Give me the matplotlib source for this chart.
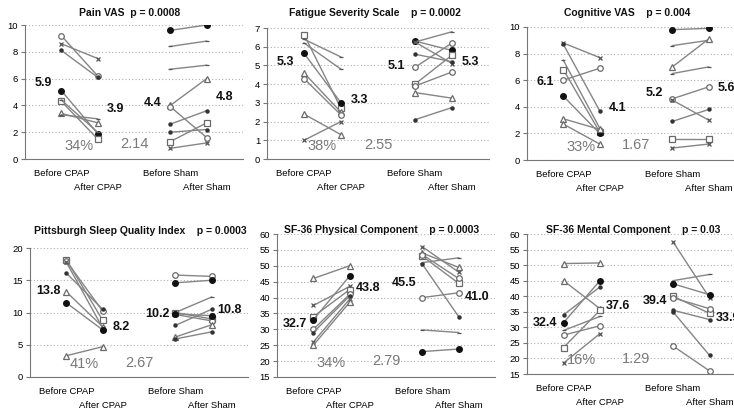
import matplotlib
matplotlib.use("Agg")
import matplotlib.pyplot as plt

W, H = 734, 415

before_labels = ["Before CPAP", "Before Sham"]
after_labels = ["After CPAP", "After Sham"]

# Pain VAS
pain_cpap_before = [9.2, 8.6, 8.1, 5.1, 4.3, 4.4, 3.4, 3.3]
pain_cpap_after = [6.2, 7.5, 6.1, 1.9, 1.5, 2.0, 2.7, 3.0]
pain_sham_before = [9.6, 8.4, 6.7, 4.0, 3.9, 2.6, 2.0, 1.3, 0.8]
pain_sham_after = [10.0, 8.8, 7.0, 6.0, 1.6, 3.6, 2.2, 2.7, 1.2]
pain_means = [5.9, 3.9, 4.4, 4.8]

# Fatigue Severity Scale
fss_cpap_before = [6.65, 6.4, 6.2, 5.65, 4.6, 4.3, 2.4, 1.0]
fss_cpap_after = [2.7, 5.45, 4.8, 3.0, 2.5, 2.35, 1.3, 2.0]
fss_sham_before = [6.3, 6.25, 6.25, 5.6, 4.9, 4.0, 3.9, 3.55, 2.1]
fss_sham_after = [5.8, 6.8, 5.1, 5.2, 6.2, 5.55, 4.65, 3.25, 2.75]
fss_means = [5.3, 3.3, 5.1, 5.3]

# Cognitive VAS
cog_cpap_before = [8.8, 8.7, 7.5, 6.8, 6.0, 4.8, 3.1, 2.7]
cog_cpap_after = [7.7, 3.7, 2.4, 2.1, 6.9, 2.0, 2.3, 1.2]
cog_sham_before = [9.8, 8.6, 7.0, 6.5, 4.6, 4.5, 2.9, 1.6, 0.9]
cog_sham_after = [9.9, 9.0, 9.1, 7.0, 5.5, 3.0, 3.8, 1.6, 1.2]
cog_means = [6.1, 4.1, 5.2, 5.6]

# Pittsburgh Sleep Quality Index
psqi_cpap_before = [18.2, 18.0, 17.8, 16.1, 13.2, 11.5, 3.3]
psqi_cpap_after = [8.8, 10.2, 7.6, 10.5, 7.8, 7.3, 4.7]
psqi_sham_before = [15.8, 14.6, 10.0, 10.0, 9.7, 9.8, 8.0, 6.2, 5.9]
psqi_sham_after = [15.6, 15.0, 12.4, 9.0, 8.7, 9.5, 10.5, 8.1, 7.0]
psqi_means = [13.8, 8.2, 10.2, 10.8]

# SF-36 Physical Component
pcs_cpap_before = [46.0, 37.5, 34.0, 33.0, 30.0, 29.0, 26.0, 25.0]
pcs_cpap_after = [50.0, 43.5, 42.5, 46.8, 41.0, 40.5, 39.5, 38.5]
pcs_sham_before = [56.0, 54.0, 53.0, 51.0, 53.5, 50.5, 40.0, 29.8, 23.0]
pcs_sham_after = [48.0, 49.5, 44.5, 52.5, 46.0, 34.0, 41.5, 29.0, 23.8]
pcs_means = [32.7, 43.8, 45.5, 41.0]

# SF-36 Mental Component
mcs_cpap_before = [50.5, 45.0, 34.0, 31.5, 29.0, 27.5, 23.5, 18.5]
mcs_cpap_after = [50.7, 36.0, 43.0, 45.0, 33.5, 30.5, 35.5, 28.0]
mcs_sham_before = [57.5, 45.0, 44.0, 40.0, 39.5, 35.5, 35.0, 24.0]
mcs_sham_after = [39.5, 47.0, 40.5, 34.5, 36.0, 32.5, 21.0, 16.0]
mcs_means = [32.4, 37.6, 39.4, 33.9]

# marker kinds per subject: o open circle, O filled circle, s square, ^ triangle, x, . dot, _ none
pain_cpap_marks = ['o', 'x', '.', 'O', 's', '_', '^', '_']
pain_sham_marks = ['O', '_', '_', '^', 'o', '.', '.', 's', 'x']
fss_cpap_marks = ['s', '_', '_', 'O', '^', 'o', '^', 'x']
fss_sham_marks = ['O', '_', 'x', '.', 'o', 's', 'o', '^', '.']
cog_cpap_marks = ['x', '.', '_', 's', 'o', 'O', '^', '^']
cog_sham_marks = ['O', '_', '^', '_', 'o', 'x', '.', 's', 'x']
psqi_cpap_marks = ['s', 'o', 'x', '.', '^', 'O', '^']
psqi_sham_marks = ['o', 'O', '_', 's', 'o', 'O', '.', '^', '.']
pcs_cpap_marks = ['^', 'x', 's', 'O', 'o', '.', 'x', '^']
pcs_sham_marks = ['x', '^', 's', '_', 'o', '.', 'o', '_', 'O']
mcs_cpap_marks = ['^', '^', '.', 'O', '_', 'o', 's', 'x']
mcs_sham_marks = ['x', '_', 'O', 's', 'o', '.', '.', 'o']

panels = [
    dict(title="Pain VAS  p = 0.0008", ylim=(0, 10), step=2,
         cb=pain_cpap_before, ca=pain_cpap_after, cm=pain_cpap_marks,
         sb=pain_sham_before, sa=pain_sham_after, sm=pain_sham_marks,
         means=pain_means, pct="34%", ratio="2.14",
         box=(25, 25, 243, 159), tpos=(130, 13)),
    dict(title="Fatigue Severity Scale    p = 0.0002", ylim=(0, 7), step=1,
         cb=fss_cpap_before, ca=fss_cpap_after, cm=fss_cpap_marks,
         sb=fss_sham_before, sa=fss_sham_after, sm=fss_sham_marks,
         means=fss_means, pct="38%", ratio="2.55",
         box=(267, 28, 489, 159), tpos=(375, 13)),
    dict(title="Cognitive VAS    p = 0.004", ylim=(0, 10), step=2,
         cb=cog_cpap_before, ca=cog_cpap_after, cm=cog_cpap_marks,
         sb=cog_sham_before, sa=cog_sham_after, sm=cog_sham_marks,
         means=cog_means, pct="33%", ratio="1.67",
         box=(527, 27, 745, 160), tpos=(627, 13)),
    dict(title="Pittsburgh Sleep Quality Index    p = 0.0003", ylim=(0, 20), step=5,
         cb=psqi_cpap_before, ca=psqi_cpap_after, cm=psqi_cpap_marks,
         sb=psqi_sham_before, sa=psqi_sham_after, sm=psqi_sham_marks,
         means=psqi_means, pct="41%", ratio="2.67",
         box=(30, 248, 248, 377), tpos=(140, 231)),
    dict(title="SF-36 Physical Component    p = 0.0003", ylim=(15, 60), step=5,
         cb=pcs_cpap_before, ca=pcs_cpap_after, cm=pcs_cpap_marks,
         sb=pcs_sham_before, sa=pcs_sham_after, sm=pcs_sham_marks,
         means=pcs_means, pct="34%", ratio="2.79",
         box=(277, 234, 495, 377), tpos=(382, 230)),
    dict(title="SF-36 Mental Component    p = 0.03", ylim=(15, 60), step=5,
         cb=mcs_cpap_before, ca=mcs_cpap_after, cm=mcs_cpap_marks,
         sb=mcs_sham_before, sa=mcs_sham_after, sm=mcs_sham_marks,
         means=mcs_means, pct="16%", ratio="1.29",
         box=(527, 234, 746, 374), tpos=(633, 230)),
]

LINE = '#858585'
EDGE = '#6a6a6a'
plt.rcParams['font.family'] = ['Liberation Sans Narrow', 'Liberation Sans', 'DejaVu Sans']


def marker_style(kind):
    if kind == 'o':
        return dict(marker='o', ms=4, mfc='white', mec=EDGE, mew=0.9)
    if kind == 'O':
        return dict(marker='o', ms=4, mfc='#111111', mec='#111111')
    if kind == 's':
        return dict(marker='s', ms=4, mfc='white', mec=EDGE, mew=0.9)
    if kind == '^':
        return dict(marker='^', ms=4.5, mfc='white', mec=EDGE, mew=0.9)
    if kind == 'x':
        return dict(marker='x', ms=3.5, mec='#555555', mew=0.9)
    if kind == '.':
        return dict(marker='o', ms=2.2, mfc='#333333', mec='#333333')
    return dict(marker='_', ms=3.5, mec='#555555', mew=0.9)


def draw_pairs(ax, x0, before, after, marks):
    for b, a, m in zip(before, after, marks):
        ax.plot([x0, x0 + 1], [b, a], color=LINE, lw=1.0, **marker_style(m))


fig = plt.figure(figsize=(W / 100, H / 100), dpi=100)

for p in panels:
    left, top, right, bottom = p['box']
    ax = fig.add_axes([left / W, 1 - bottom / H, (right - left) / W, (bottom - top) / H])
    lo, hi = p['ylim']
    ax.set_xlim(0, 6)
    ax.set_ylim(lo, hi)

    draw_pairs(ax, 1, p['cb'], p['ca'], p['cm'])
    draw_pairs(ax, 4, p['sb'], p['sa'], p['sm'])

    ax.set_yticks(range(lo, hi + 1, p['step']))
    ax.set_xticks([1, 4], before_labels)
    ax.set_xticks([2, 5], after_labels, minor=True)
    ax.tick_params(axis='x', which='major', length=0, labelsize=6.8, pad=7.5)
    ax.tick_params(axis='x', which='minor', length=0, labelsize=6.8, pad=17.5)
    ax.tick_params(axis='y', length=3, labelsize=6.8, color='#777777', pad=2)
    ax.yaxis.grid(True, linestyle=(0, (1, 2)), color='#b0b0b0', lw=0.8)
    ax.set_axisbelow(True)
    for s in ['top', 'right']:
        ax.spines[s].set_visible(False)
    for s in ['left', 'bottom']:
        ax.spines[s].set_color('#777777')
        ax.spines[s].set_linewidth(0.8)

    rng = hi - lo
    for x, v in zip([0.5, 2.5, 3.5, 5.5], p['means']):
        ax.text(x, v - 0.02 * rng, f"{v:.1f}", ha='center', va='center',
                fontsize=9, fontweight='bold', color='#111111')
    ax.text(1.5, lo + 0.10 * rng, p['pct'], ha='center', va='center',
            fontsize=10.5, color='#7a7a7a')
    ax.text(3.0, lo + 0.11 * rng, p['ratio'], ha='center', va='center',
            fontsize=10.5, color='#7a7a7a')

    fig.text(p['tpos'][0] / W, 1 - p['tpos'][1] / H, p['title'], ha='center', va='center',
             fontsize=7.5, fontweight='bold', color='#111111')

fig.savefig("out.png", dpi=100)
